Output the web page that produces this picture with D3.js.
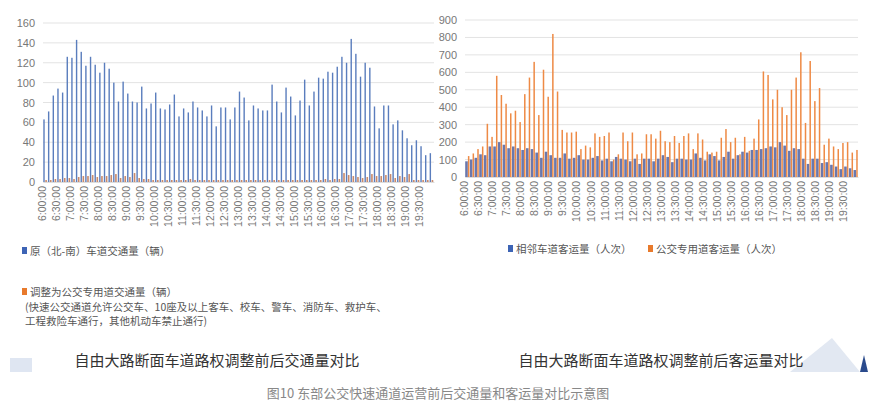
<!DOCTYPE html>
<html><head><meta charset="utf-8">
<script src="https://cdn.jsdelivr.net/npm/d3@7"></script>
<style>body{margin:0;background:#fff;font-family:"Noto Sans CJK SC","Noto Sans",sans-serif}</style>
</head><body><svg id="c" width="877" height="409"></svg>
<script>
const times=[];for(let h=6;h<20;h++)for(let m=0;m<60;m+=10)times.push(h+":"+(m<10?"0"+m:m)+":00");
const leftOriginal=[63,71,87,94,90,126,125,143,131,117,126,118,110,120,114,100,81,101,89,81,80,96,74,79,90,74,73,78,88,66,74,70,81,75,72,66,77,56,75,75,63,75,91,85,62,77,74,72,72,98,81,70,95,86,67,82,103,77,91,105,104,111,110,116,126,120,144,129,106,120,115,76,54,77,77,58,62,52,44,37,42,36,27,29];
const leftBus=[2,2,3,3,4,4,3,5,6,6,7,5,6,6,7,8,4,6,5,9,4,3,3,2,2,2,2,2,2,2,2,3,2,2,2,2,2,2,2,2,2,2,2,2,2,2,2,2,2,2,2,2,2,2,2,2,2,2,2,2,3,2,3,3,9,7,6,5,4,5,8,6,6,7,8,4,6,5,8,2,2,2,2,2];
const rightAdj=[90,100,110,130,125,175,175,200,185,165,175,165,155,165,160,140,110,145,125,110,110,135,105,110,125,100,100,110,120,95,105,90,115,105,100,90,105,75,105,105,90,105,125,115,85,105,105,100,100,135,110,95,130,120,95,115,145,105,125,145,140,155,155,160,165,175,170,200,180,150,165,160,105,75,105,105,80,85,70,60,45,60,50,40];
const rightBus=[120,135,160,175,305,230,580,470,420,365,380,315,475,570,660,355,615,460,820,490,270,255,255,260,160,180,170,250,230,235,255,100,130,255,205,255,130,135,245,245,220,265,205,200,235,195,235,250,160,250,215,145,140,145,225,275,200,225,130,230,150,220,330,605,585,445,500,400,355,500,570,715,310,665,435,510,185,220,175,160,195,200,140,155];
const leftTicks=[0,20,40,60,80,100,120,140,160];
const rightTicks=[0,100,200,300,400,500,600,700,800,900];
const BLUE="#5a7dbd",ORANGE="#ee8a45";
const svg=d3.select("#c");
svg.append("rect").attr("x",10).attr("y",358).attr("width",22).attr("height",14).attr("fill","#dfe6f2");
svg.append("path").attr("d","M790,372 L832,338 L860,372 Z").attr("fill","#e2e8f2");
svg.append("path").attr("d","M860,372 L864,355 L868,372 Z").attr("fill","#2a4a8c");

function chart(x0,x1,y0,y1,max,ticks,series,widths,offsets){
  const x=d3.scaleBand().domain(times).range([x0,x1]);
  const y=d3.scaleLinear().domain([0,max]).range([y1,y0]);
  const g=svg.append("g");
  g.selectAll(".gl").data(ticks).join("line").attr("x1",x0).attr("x2",x1).attr("y1",d=>y(d)).attr("y2",d=>y(d)).attr("stroke","#e3e3e3");
  g.append("g").attr("transform",`translate(${x0},0)`).call(d3.axisLeft(y).tickValues(ticks).tickSize(0).tickPadding(8))
   .call(a=>a.select(".domain").remove()).selectAll("text").attr("fill","#777").style("font-size","11px").style("font-family","Liberation Sans,Arial");
  series.forEach((s,i)=>{
    g.selectAll(null).data(s.vals).join("rect").attr("x",(d,j)=>x(times[j])+offsets[i]).attr("width",widths[i])
     .attr("y",d=>y(d)).attr("height",d=>y1-y(d)).attr("fill",s.color);
  });
  const xa=g.append("g").attr("transform",`translate(0,${y1})`).call(d3.axisBottom(x).tickValues(times.filter((d,i)=>i%3==0)).tickSize(0).tickPadding(4));
  xa.select(".domain").attr("stroke","#ddd");
  xa.selectAll("text").attr("transform","rotate(-90)").attr("text-anchor","end").attr("dx","-4").attr("dy","-0.3em")
    .attr("fill","#777").style("font-size","10.5px").style("font-family","Liberation Sans,Arial");
}
chart(43,434,23,182,160,leftTicks,[{vals:leftOriginal,color:BLUE},{vals:leftBus,color:"#c98a6a"}],[1.4,1.6],[0.3,2.3]);
chart(465,858,20,177,900,rightTicks,[{vals:rightAdj,color:"#6a78ad"},{vals:rightBus,color:ORANGE}],[2.6,1.5],[0.2,2.9]);

function legend(x,y,color,lines){
  svg.append("rect").attr("x",x).attr("y",y-8).attr("width",5).attr("height",7).attr("fill",color);
  lines.forEach((t,i)=>svg.append("text").attr("x",x+(i==0?8:3)).attr("y",y+i*14.5).attr("font-size",10.5).attr("fill","#555").text(t));
}
legend(22,255,"#3d64b5",["原（北-南）车道交通量（辆）"]);
legend(22,296,"#e87a2c",["调整为公交专用道交通量（辆）","(快速公交通道允许公交车、10座及以上客车、校车、警车、消防车、救护车、","工程救险车通行，其他机动车禁止通行)"]);
legend(508,253,"#3d64b5",["相邻车道客运量（人次）"]);
legend(648,253,"#e87a2c",["公交专用道客运量（人次）"]);
svg.append("text").attr("x",217).attr("y",366).attr("text-anchor","middle").attr("font-size",15).attr("fill","#333").text("自由大路断面车道路权调整前后交通量对比");
svg.append("text").attr("x",661).attr("y",366).attr("text-anchor","middle").attr("font-size",15).attr("fill","#333").text("自由大路断面车道路权调整前后客运量对比");
svg.append("text").attr("x",438).attr("y",398).attr("text-anchor","middle").attr("font-size",13).attr("fill","#888").text("图10  东部公交快速通道运营前后交通量和客运量对比示意图");
</script></body></html>
